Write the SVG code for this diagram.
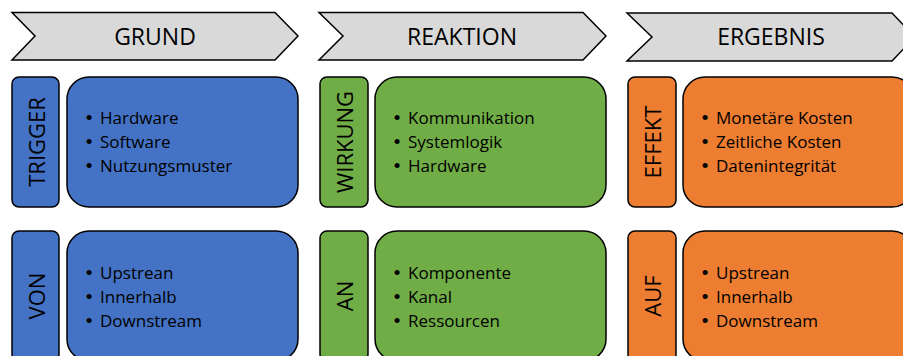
<svg xmlns="http://www.w3.org/2000/svg" width="903" height="356" viewBox="0 0 903 356">
  <style>
    .chev { fill: #D9D9D9; stroke: #000; stroke-width: 1.5; stroke-linejoin: miter; }
    .box { stroke: #000; stroke-width: 1.5; }
    .blue { fill: #4472C4; }
    .green { fill: #70AD47; }
    .orange { fill: #ED7D31; }
    .title { font-family: "Open Sans", "Liberation Sans", sans-serif; font-size: 23px; fill: #000; text-anchor: middle; }
    .vlabel { font-family: "Open Sans", "Liberation Sans", sans-serif; font-size: 22px; fill: #000; text-anchor: middle; dominant-baseline: central; }
    .item { font-family: "Open Sans", "Liberation Sans", sans-serif; font-size: 17px; fill: #000; }
    .bul { font-family: "Liberation Sans", sans-serif; font-size: 19px; fill: #000; text-anchor: middle; }
  </style>
  <rect width="903" height="356" fill="#fff"/>

  <!-- column headers -->
  <g id="head-grund">
    <polygon class="chev" points="12,12.5 275,12.5 298,36 275,60 12,60 35,36"/>
    <text class="title" x="155" y="45">GRUND</text>
  </g>
  <g id="head-reaktion">
    <polygon class="chev" points="319,12.5 583,12.5 606,36 583,60 319,60 343,36"/>
    <text class="title" x="462" y="45">REAKTION</text>
  </g>
  <g id="head-ergebnis">
    <polygon class="chev" points="627,13 892,13 915,37 892,61 627,61 652,37"/>
    <text class="title" x="771" y="45">ERGEBNIS</text>
  </g>

  <!-- GRUND column -->
  <g id="trigger">
    <rect class="box blue" x="12" y="77" width="47" height="130" rx="7"/>
    <text class="vlabel" transform="translate(35.5 142) rotate(-90)">TRIGGER</text>
  </g>
  <g id="trigger-list">
    <rect class="box blue" x="67" y="77" width="231" height="130" rx="22"/>
    <text class="bul" x="89" y="124">•</text><text class="item" x="100" y="124">Hardware</text>
    <text class="bul" x="89" y="148">•</text><text class="item" x="100" y="148">Software</text>
    <text class="bul" x="89" y="172">•</text><text class="item" x="100" y="172">Nutzungsmuster</text>
  </g>
  <g id="von">
    <rect class="box blue" x="12" y="231" width="47" height="130" rx="7"/>
    <text class="vlabel" transform="translate(35.5 296) rotate(-90)">VON</text>
  </g>
  <g id="von-list">
    <rect class="box blue" x="67" y="231" width="231" height="130" rx="22"/>
    <text class="bul" x="89" y="279">•</text><text class="item" x="100" y="279">Upstrean</text>
    <text class="bul" x="89" y="303">•</text><text class="item" x="100" y="303">Innerhalb</text>
    <text class="bul" x="89" y="327">•</text><text class="item" x="100" y="327">Downstream</text>
  </g>

  <!-- REAKTION column -->
  <g id="wirkung">
    <rect class="box green" x="320" y="77" width="48" height="130" rx="7"/>
    <text class="vlabel" transform="translate(344 142) rotate(-90)">WIRKUNG</text>
  </g>
  <g id="wirkung-list">
    <rect class="box green" x="375" y="77" width="231" height="130" rx="22"/>
    <text class="bul" x="397" y="124">•</text><text class="item" x="408" y="124">Kommunikation</text>
    <text class="bul" x="397" y="148">•</text><text class="item" x="408" y="148">Systemlogik</text>
    <text class="bul" x="397" y="172">•</text><text class="item" x="408" y="172">Hardware</text>
  </g>
  <g id="an">
    <rect class="box green" x="320" y="231" width="48" height="130" rx="7"/>
    <text class="vlabel" transform="translate(344 296) rotate(-90)">AN</text>
  </g>
  <g id="an-list">
    <rect class="box green" x="375" y="231" width="231" height="130" rx="22"/>
    <text class="bul" x="397" y="279">•</text><text class="item" x="408" y="279">Komponente</text>
    <text class="bul" x="397" y="303">•</text><text class="item" x="408" y="303">Kanal</text>
    <text class="bul" x="397" y="327">•</text><text class="item" x="408" y="327">Ressourcen</text>
  </g>

  <!-- ERGEBNIS column -->
  <g id="effekt">
    <rect class="box orange" x="628" y="77" width="48" height="130" rx="7"/>
    <text class="vlabel" transform="translate(652 142) rotate(-90)">EFFEKT</text>
  </g>
  <g id="effekt-list">
    <rect class="box orange" x="683" y="77" width="231" height="130" rx="22"/>
    <text class="bul" x="705" y="124">•</text><text class="item" x="716" y="124">Monetäre Kosten</text>
    <text class="bul" x="705" y="148">•</text><text class="item" x="716" y="148">Zeitliche Kosten</text>
    <text class="bul" x="705" y="172">•</text><text class="item" x="716" y="172">Datenintegrität</text>
  </g>
  <g id="auf">
    <rect class="box orange" x="628" y="231" width="48" height="130" rx="7"/>
    <text class="vlabel" transform="translate(652 296) rotate(-90)">AUF</text>
  </g>
  <g id="auf-list">
    <rect class="box orange" x="683" y="231" width="231" height="130" rx="22"/>
    <text class="bul" x="705" y="279">•</text><text class="item" x="716" y="279">Upstrean</text>
    <text class="bul" x="705" y="303">•</text><text class="item" x="716" y="303">Innerhalb</text>
    <text class="bul" x="705" y="327">•</text><text class="item" x="716" y="327">Downstream</text>
  </g>

  <!-- no connectors between the panels -->
  <g id="connectors"/>
</svg>
